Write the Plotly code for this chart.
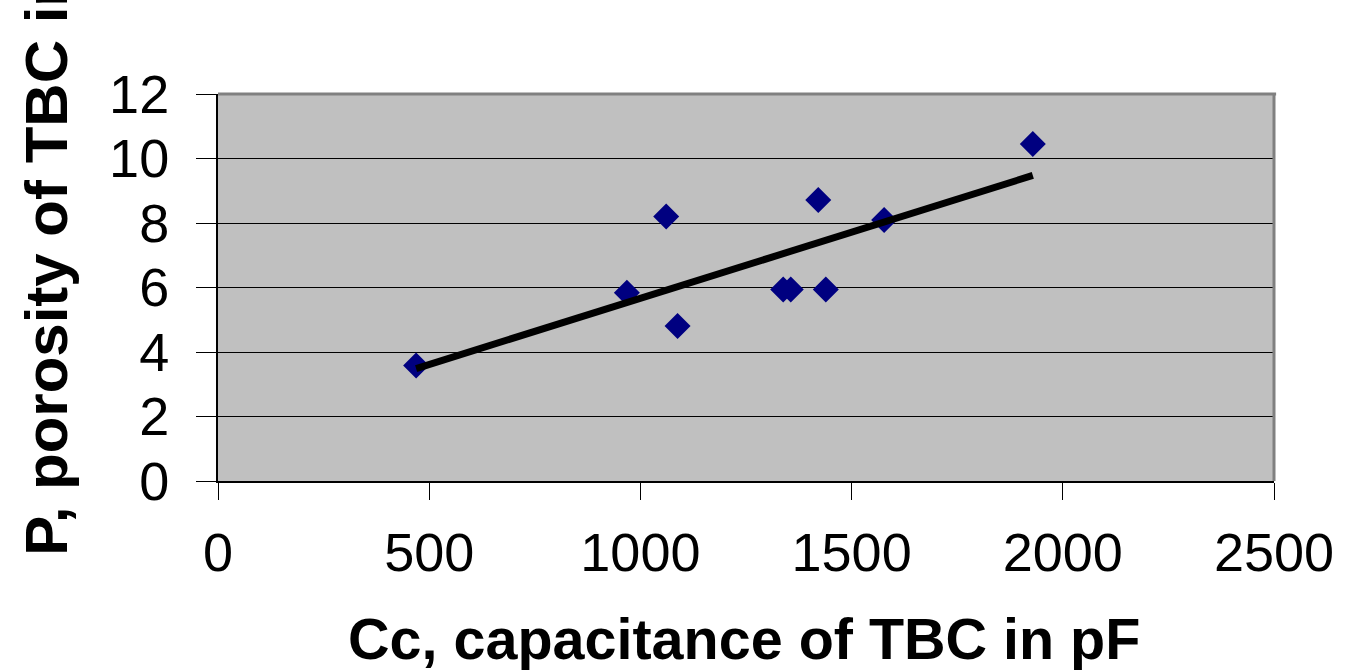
import numpy as np
import plotly.graph_objects as go

# Measured TBC samples: capacitance (pF) vs porosity (%)
capacitance_pf = [469, 968, 1061, 1088, 1338, 1356, 1421, 1439, 1577, 1929]
porosity_pct = [3.58, 5.84, 8.20, 4.81, 5.94, 5.94, 8.71, 5.94, 8.09, 10.45]

x_ticks = [0, 500, 1000, 1500, 2000, 2500]
y_ticks = [0, 2, 4, 6, 8, 10, 12]

x_title = "Cc, capacitance of TBC in pF"
y_title = "P, porosity of TBC in %"

# Least-squares linear trend over the measured range
slope, intercept = np.polyfit(capacitance_pf, porosity_pct, 1)
trend_x = [min(capacitance_pf), max(capacitance_pf)]
trend_y = [slope * v + intercept for v in trend_x]

FONT = "Liberation Sans, Arial, sans-serif"

fig = go.Figure()

fig.add_trace(go.Scatter(
    x=capacitance_pf, y=porosity_pct, mode="markers",
    marker=dict(symbol="diamond", size=20, color="#000080", line=dict(width=0)),
    showlegend=False, hoverinfo="x+y",
))

fig.add_trace(go.Scatter(
    x=trend_x, y=trend_y, mode="lines",
    line=dict(color="black", width=7),
    showlegend=False, hoverinfo="skip",
))

fig.update_layout(
    width=1345, height=670,
    margin=dict(l=218, r=71, t=94, b=189),
    paper_bgcolor="white",
    plot_bgcolor="#C0C0C0",
    font=dict(family=FONT, color="black"),
    xaxis=dict(
        range=[0, 2500], tickvals=x_ticks, ticktext=[str(v) for v in x_ticks],
        showgrid=False, zeroline=False,
        showline=True, linecolor="black", linewidth=2,
        ticks="outside", ticklen=17, tickwidth=1, tickcolor="black",
        tickfont=dict(size=54, family=FONT, color="black"),
        ticklabelstandoff=6,
    ),
    yaxis=dict(
        range=[0, 12], tickvals=y_ticks, ticktext=[str(v) for v in y_ticks],
        showgrid=True, gridcolor="black", gridwidth=1, zeroline=False,
        showline=True, linecolor="black", linewidth=2,
        ticks="outside", ticklen=20, tickwidth=1, tickcolor="black",
        tickfont=dict(size=54, family=FONT, color="black"),
        ticklabelstandoff=16,
    ),
    shapes=[
        # grey frame along the top and right of the plot area
        dict(type="line", xref="x domain", yref="y domain",
             x0=0, x1=1.002, y0=1, y1=1, line=dict(color="#808080", width=3)),
        dict(type="line", xref="x domain", yref="y domain",
             x0=1, x1=1, y0=0, y1=1, line=dict(color="#808080", width=3)),
    ],
    annotations=[
        dict(text=f"<b>{x_title}</b>", xref="paper", yref="paper",
             x=0.4985, y=-0.4070, xanchor="center", yanchor="middle",
             showarrow=False, font=dict(size=57.5, family=FONT, color="black")),
        dict(text=f"<b>{y_title}</b>", xref="paper", yref="paper",
             x=-0.1625, y=-0.197, xanchor="center", yanchor="bottom",
             textangle=-90, showarrow=False,
             font=dict(size=60, family=FONT, color="black")),
    ],
)

fig.write_html("out.html")
